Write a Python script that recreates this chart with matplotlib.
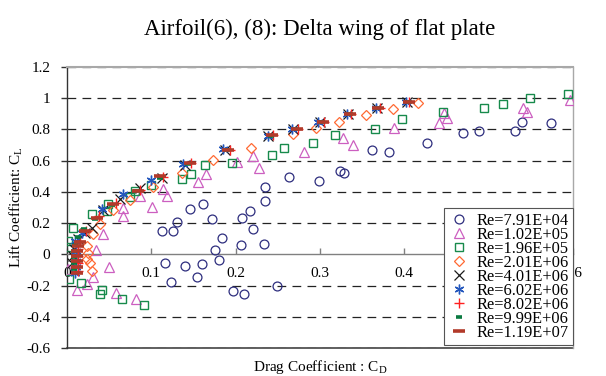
import matplotlib
matplotlib.use("Agg")
import matplotlib.pyplot as plt

plt.rcParams["font.family"] = ["Liberation Serif", "DejaVu Serif"]
plt.rcParams["mathtext.fontset"] = "stix"
plt.rcParams["axes.unicode_minus"] = False

title = "Airfoil(6), (8): Delta wing of flat plate"
x_label = "Drag Coefficient : $\\mathregular{C_D}$"
y_label = "Lift Coefficient: $\\mathregular{C_L}$"

y_ticks = [-0.6, -0.4, -0.2, 0, 0.2, 0.4, 0.6, 0.8, 1.0, 1.2]
y_tick_labels = ["-0.6", "-0.4", "-0.2", "0", "0.2", "0.4", "0.6", "0.8", "1", "1.2"]
x_ticks = [0, 0.1, 0.2, 0.3, 0.4, 0.5, 0.6]
x_tick_labels = ["0", "0.1", "0.2", "0.3", "0.4", "0.5", "0.6"]

labels = ["Re=7.91E+04", "Re=1.02E+05", "Re=1.96E+05", "Re=2.01E+06",
          "Re=4.01E+06", "Re=6.02E+06", "Re=8.02E+06", "Re=9.99E+06",
          "Re=1.19E+07"]

cd_re791e4 = [0.113, 0.126, 0.116, 0.123, 0.131, 0.140, 0.146, 0.154, 0.160,
              0.161, 0.172, 0.176, 0.180, 0.184, 0.197, 0.206, 0.208, 0.210,
              0.217, 0.221, 0.234, 0.235, 0.235, 0.249, 0.263, 0.299, 0.324,
              0.329, 0.362, 0.382, 0.427, 0.470, 0.488, 0.531, 0.540, 0.574]
cl_re791e4 = [0.147, 0.147, -0.058, -0.179, 0.205, -0.077, 0.288, -0.147,
              -0.064, 0.321, 0.224, 0.026, -0.038, 0.103, -0.237, 0.058, 0.231,
              -0.256, 0.276, 0.160, 0.064, 0.429, 0.340, -0.205, 0.494, 0.468,
              0.532, 0.519, 0.667, 0.654, 0.712, 0.776, 0.788, 0.788, 0.846,
              0.840]

cd_re102e5 = [0.001, 0.012, 0.024, 0.031, 0.034, 0.043, 0.050, 0.058, 0.066,
              0.066, 0.082, 0.087, 0.101, 0.114, 0.119, 0.155, 0.165, 0.202,
              0.220, 0.228, 0.281, 0.327, 0.339, 0.388, 0.441, 0.447, 0.451,
              0.541, 0.546, 0.596]
cl_re102e5 = [-0.096, -0.231, -0.192, -0.147, 0.026, 0.128, -0.083, -0.250,
              0.295, 0.244, -0.288, 0.372, 0.301, 0.417, 0.372, 0.462, 0.513,
              0.590, 0.628, 0.551, 0.654, 0.744, 0.699, 0.808, 0.840, 0.904,
              0.872, 0.936, 0.910, 0.987]

cd_re196e5 = [0.001, 0.002, 0.002, 0.007, 0.017, 0.030, 0.039, 0.042, 0.047,
              0.049, 0.065, 0.075, 0.081, 0.091, 0.099, 0.136, 0.147, 0.164,
              0.196, 0.243, 0.257, 0.292, 0.318, 0.365, 0.397, 0.446, 0.495,
              0.517, 0.549, 0.594]
cl_re196e5 = [0.083, 0.045, -0.160, 0.167, -0.186, 0.256, -0.256, -0.231,
              0.276, 0.321, -0.288, 0.365, 0.404, -0.327, 0.442, 0.481, 0.513,
              0.571, 0.583, 0.635, 0.679, 0.712, 0.763, 0.801, 0.865, 0.910,
              0.936, 0.962, 1.000, 1.026]

cd_re201e6 = [0.024, 0.025, 0.024, 0.027, 0.030, 0.031, 0.039, 0.055, 0.075,
              0.102, 0.136, 0.173, 0.218, 0.268, 0.295, 0.323, 0.354, 0.386,
              0.416]
cl_re201e6 = [0.051, 0.006, -0.032, -0.058, -0.109, 0.128, 0.192, 0.282, 0.346,
              0.429, 0.519, 0.603, 0.679, 0.769, 0.808, 0.846, 0.891, 0.929,
              0.968]

cd_re401e6 = [0.006, 0.007, 0.008, 0.013, 0.021, 0.030, 0.043, 0.063, 0.087,
              0.113, 0.140, 0.187, 0.238, 0.268, 0.300, 0.333, 0.368, 0.403]
cl_re401e6 = [-0.058, -0.013, 0.032, 0.096, 0.135, 0.167, 0.282, 0.353, 0.423,
              0.487, 0.571, 0.667, 0.756, 0.801, 0.846, 0.897, 0.936, 0.974]

cd_re602e6 = [0.010, 0.011, 0.011, 0.011, 0.010, 0.018, 0.042, 0.066, 0.099,
              0.138, 0.185, 0.238, 0.267, 0.298, 0.332, 0.367, 0.402]
cl_re602e6 = [-0.122, -0.083, -0.045, 0.019, 0.083, 0.135, 0.288, 0.385,
              0.474, 0.577, 0.673, 0.756, 0.801, 0.846, 0.897, 0.936, 0.974]

cd_re802e6 = [0.013, 0.013, 0.013, 0.013, 0.015, 0.023, 0.038, 0.058, 0.087,
              0.114, 0.147, 0.193, 0.244, 0.274, 0.305, 0.337, 0.371, 0.406]
cl_re802e6 = [-0.109, -0.058, -0.013, 0.032, 0.083, 0.147, 0.244, 0.327,
              0.410, 0.494, 0.583, 0.667, 0.763, 0.801, 0.846, 0.897, 0.936,
              0.974]

cd_re999e6 = [0.008, 0.008, 0.008, 0.008, 0.009, 0.013, 0.020, 0.033, 0.053,
              0.082, 0.110, 0.144, 0.190, 0.242, 0.272, 0.302, 0.335, 0.369,
              0.405]
cl_re999e6 = [-0.096, -0.058, -0.019, 0.019, 0.058, 0.109, 0.160, 0.224, 0.314,
              0.404, 0.487, 0.577, 0.667, 0.756, 0.801, 0.846, 0.897, 0.936,
              0.974]

cd_re119e7 = [0.012, 0.012, 0.012, 0.012, 0.012, 0.013, 0.015, 0.021, 0.036,
              0.055, 0.084, 0.110, 0.146, 0.191, 0.243, 0.273, 0.304, 0.336,
              0.369, 0.405]
cl_re119e7 = [-0.122, -0.083, -0.045, -0.013, 0.019, 0.051, 0.077, 0.147,
              0.231, 0.321, 0.404, 0.500, 0.583, 0.667, 0.763, 0.801, 0.846,
              0.897, 0.936, 0.974]

series = [
    (cd_re791e4, cl_re791e4, dict(marker="o", ms=6.4, mfc="none", mec="#2e2e7e", mew=0.9)),
    (cd_re102e5, cl_re102e5, dict(marker="^", ms=7.2, mfc="none", mec="#cc5fc0", mew=0.9)),
    (cd_re196e5, cl_re196e5, dict(marker="s", ms=6.4, mfc="none", mec="#178a4c", mew=1.0)),
    (cd_re201e6, cl_re201e6, dict(marker="D", ms=5.0, mfc="none", mec="#ff6a33", mew=0.9)),
    (cd_re401e6, cl_re401e6, dict(marker="x", ms=6.5, mec="#1a1a1a", mew=0.9)),
    (cd_re602e6, cl_re602e6, dict(marker=(6, 2, 0), ms=7.0, mec="#2457bd", mew=1.0)),
    (cd_re802e6, cl_re802e6, dict(marker="+", ms=7.0, mec="#ff2020", mew=1.0)),
    (cd_re999e6, cl_re999e6, dict(marker="_", ms=4.0, mec="#0a7a40", mew=2.6)),
    (cd_re119e7, cl_re119e7, dict(marker="_", ms=8.0, mec="#b23a2a", mew=2.6)),
]

fig = plt.figure(figsize=(6.06, 3.76), dpi=100)
ax = fig.add_axes([0.1106, 0.0745, 0.8349, 0.7473])

ax.set_xlim(0, 0.6)
ax.set_ylim(-0.6, 1.2)

# dashed horizontal grid
for yv in y_ticks:
    if yv == 0:
        continue
    ax.axhline(yv, color="#222222", lw=0.9, ls=(0, (7, 5)), zorder=1)

handles = []
for (xs, ys, style), lab in zip(series, labels):
    h, = ax.plot(xs, ys, ls="none", label=lab, zorder=3, **style)
    handles.append(h)

# frame
ax.spines["left"].set_color("#333333")
ax.spines["left"].set_linewidth(1.0)
ax.spines["top"].set_color("#a8a8a8")
ax.spines["top"].set_linewidth(1.5)
ax.spines["right"].set_color("#a8a8a8")
ax.spines["right"].set_linewidth(1.0)
ax.spines["bottom"].set_position(("data", 0))
ax.spines["bottom"].set_color("#808080")
ax.spines["bottom"].set_linewidth(1.0)
ax.axhline(-0.6, color="#444444", lw=1.2, zorder=2, clip_on=False)

ax.set_xticks(x_ticks)
ax.set_xticklabels(x_tick_labels)
ax.set_yticks(y_ticks)
ax.set_yticklabels(y_tick_labels)
ax.tick_params(axis="x", direction="in", length=4, width=1, color="#808080",
               labelsize=11, pad=9)
ax.tick_params(axis="y", direction="out", length=4, width=1, color="#333333",
               labelsize=11, pad=8)

ax.set_title(title, fontsize=16.5, pad=23)
ax.set_xlabel(x_label, fontsize=11)
ax.xaxis.set_label_coords(0.5, -0.035)
ax.set_ylabel(y_label, fontsize=11)
ax.yaxis.set_label_coords(-0.083, 0.5)

leg = ax.legend(handles=handles, loc="lower right", bbox_to_anchor=(1.0, 0.011),
                borderaxespad=0, fontsize=11.8, frameon=True, fancybox=False,
                framealpha=1, edgecolor="#555555", handlelength=1.4,
                handletextpad=0.35, labelspacing=-0.12, borderpad=0.25,
                numpoints=1)
leg.get_frame().set_linewidth(0.8)
leg.set_zorder(5)

fig.savefig("out.png", dpi=100)
